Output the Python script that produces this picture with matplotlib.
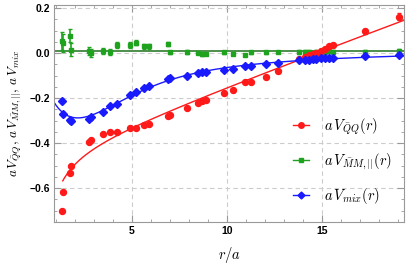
import numpy as np
import matplotlib
matplotlib.use('Agg')
import matplotlib.pyplot as plt
from matplotlib.ticker import MultipleLocator, FuncFormatter

plt.rcParams['mathtext.fontset'] = 'cm'

# separations r/a (shared by all three series)
r = [1.33, 1.40, 1.78, 1.82, 2.78, 2.85, 3.48, 3.88, 4.21, 4.91, 5.21, 5.65,
     5.89, 6.94, 7.04, 7.92, 8.48, 8.69, 8.90, 9.88, 10.35, 10.96, 11.30, 12.08,
     12.71, 13.79, 14.10, 14.35, 14.55, 14.70, 14.97, 15.19, 15.40, 15.58, 17.28, 19.04]

v_qq = [-0.703, -0.617, -0.531, -0.500, -0.397, -0.385, -0.360, -0.353, -0.350, -0.335,
        -0.332, -0.320, -0.316, -0.279, -0.275, -0.245, -0.222, -0.215, -0.210, -0.176,
        -0.166, -0.127, -0.128, -0.107, -0.081, -0.025, -0.018, -0.007, -0.003, 0.000,
        0.010, 0.018, 0.030, 0.037, 0.096, 0.162]
e_qq = [0.004, 0.004, 0.004, 0.004, 0.004, 0.004, 0.004, 0.004, 0.004, 0.004,
        0.004, 0.004, 0.004, 0.004, 0.004, 0.005, 0.005, 0.005, 0.005, 0.005,
        0.005, 0.005, 0.005, 0.006, 0.006, 0.006, 0.006, 0.006, 0.006, 0.006,
        0.007, 0.007, 0.007, 0.008, 0.009, 0.014]

v_mm = [0.055, 0.045, 0.078, 0.015, 0.008, 0.000, 0.008, 0.005, 0.035, 0.036,
        0.046, 0.030, 0.030, 0.040, 0.003, 0.005, 0.000, -0.006, -0.004, 0.003,
        -0.002, -0.009, 0.004, 0.004, 0.005, 0.006, 0.006, 0.006, 0.000, 0.004,
        0.000, 0.006, 0.010, 0.006, 0.004, 0.008]
e_mm = [0.040, 0.040, 0.030, 0.030, 0.018, 0.018, 0.014, 0.014, 0.012, 0.012,
        0.012, 0.010, 0.010, 0.010, 0.008, 0.008, 0.006, 0.006, 0.006, 0.006,
        0.006, 0.006, 0.006, 0.006, 0.006, 0.008, 0.008, 0.008, 0.008, 0.008,
        0.008, 0.008, 0.008, 0.008, 0.008, 0.010]

v_mix = [-0.213, -0.270, -0.298, -0.300, -0.292, -0.285, -0.262, -0.235, -0.227, -0.188,
         -0.172, -0.154, -0.147, -0.115, -0.112, -0.100, -0.090, -0.085, -0.084, -0.075,
         -0.069, -0.059, -0.059, -0.048, -0.045, -0.031, -0.031, -0.029, -0.028, -0.027,
         -0.022, -0.022, -0.022, -0.022, -0.015, -0.007]
e_mix = [0.008, 0.008, 0.007, 0.007, 0.006, 0.006, 0.006, 0.006, 0.005, 0.005,
         0.005, 0.005, 0.005, 0.004, 0.004, 0.004, 0.004, 0.004, 0.004, 0.004,
         0.004, 0.004, 0.004, 0.004, 0.004, 0.004, 0.004, 0.004, 0.004, 0.004,
         0.004, 0.004, 0.004, 0.004, 0.004, 0.005]

r = np.array(r)
vm = np.array(v_mix)

# Cornell-type fit for the static potential
m = r >= 1.38
A = np.column_stack([np.ones(m.sum()), 1 / r[m], r[m]])
c_qq = np.linalg.lstsq(A, np.array(v_qq)[m], rcond=None)[0]


# damped fit for the mixing potential, decay length from a scan
def mix_basis(x, lam):
    d = np.exp(-x / lam)
    return np.column_stack([d * x, d * x**2, d * x**3])


best = None
for lam in np.linspace(1.0, 10, 181):
    Bm = mix_basis(r, lam)
    c = np.linalg.lstsq(Bm, vm, rcond=None)[0]
    err = np.sum((Bm @ c - vm) ** 2)
    if best is None or err < best[0]:
        best = (err, lam, c)
_, lam_mix, c_mix = best

c_mm = np.mean(v_mm[4:])

red, green, blue = '#ff1a1a', '#1fa31f', '#1a1aff'

fig = plt.figure(figsize=(4.07, 2.66), dpi=100)
ax = fig.add_axes([0.1327, 0.1654, 0.8607, 0.8169])

xq = np.linspace(1.38, 19.6, 300)
ax.plot(xq, c_qq[0] + c_qq[1] / xq + c_qq[2] * xq, color=red, lw=1.0)
xm = np.linspace(0.9, 19.6, 300)
ax.plot(xm, mix_basis(xm, lam_mix) @ c_mix, color=blue, lw=1.0)
ax.axhline(c_mm, color='#4d8f4d', lw=1.4)

ax.errorbar(r, v_mm, yerr=e_mm, fmt='s', color=green, ms=3.2, capsize=1.5, elinewidth=1.2)
ax.errorbar(r, v_qq, yerr=e_qq, fmt='o', color=red, ms=4.3, capsize=1.5, elinewidth=1.0)
ax.errorbar(r, v_mix, yerr=e_mix, fmt='D', color=blue, ms=4.0, capsize=1.5, elinewidth=1.0)

ax.set_xlim(0.92, 19.34)
ax.set_ylim(-0.751, 0.215)
ax.xaxis.set_major_locator(MultipleLocator(5))
ax.xaxis.set_minor_locator(MultipleLocator(1))
ax.yaxis.set_major_locator(MultipleLocator(0.2))
ax.yaxis.set_minor_locator(MultipleLocator(0.05))
ax.yaxis.set_major_formatter(FuncFormatter(lambda v, p: f'{v:.1f}'.replace('-', '\u2212')))
ax.tick_params(which='both', direction='in', top=True, right=True, color='#999999',
               labelsize=7.5, pad=3)
ax.tick_params(which='major', length=5)
ax.tick_params(which='minor', length=2.5)
for lab in ax.get_xticklabels() + ax.get_yticklabels():
    lab.set_fontweight('bold')
    lab.set_family('Liberation Sans')
for s in ax.spines.values():
    s.set_color('#999999')
ax.grid(True, which='major', ls=(0, (4, 3)), color='#cccccc', lw=0.8)

ax.set_xlabel(r'$r/a$', fontsize=10.5, labelpad=6)
ax.set_ylabel(r'$a\,V_{\bar{Q}Q},\,a\,V_{\bar{M}M,||},\,a\,V_{mix}$', fontsize=9.5, labelpad=4)

h1 = plt.Line2D([], [], color=red, marker='o', ms=4, lw=1.0)
h2 = plt.Line2D([], [], color=green, marker='s', ms=3, lw=1.0)
h3 = plt.Line2D([], [], color=blue, marker='D', ms=3.5, lw=1.0)
fig.legend([h1, h2, h3],
           [r'$a\,V_{\bar{Q}Q}(r)$', r'$a\,V_{\bar{M}M,||}(r)$', r'$a\,V_{mix}(r)$'],
           loc='center left', bbox_to_anchor=(0.703, 0.393), frameon=False,
           fontsize=10.5, handlelength=1.1, handletextpad=1.0, labelspacing=1.0,
           borderpad=0)

fig.savefig('out.png', dpi=100)
